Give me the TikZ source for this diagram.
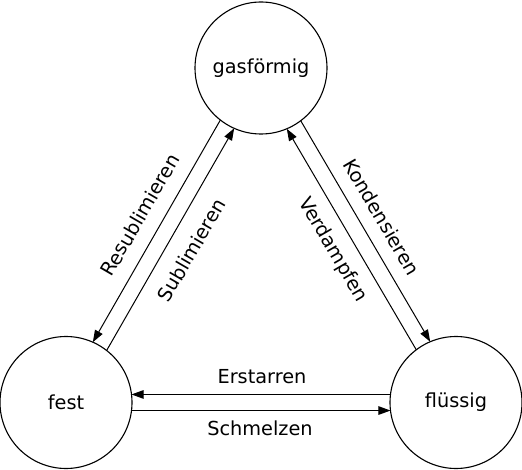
\documentclass[tikz,border=0pt]{standalone}
\usepackage{fontspec}
\setmainfont{DejaVu Sans}
\usetikzlibrary{arrows.meta}
\begin{document}
\begin{tikzpicture}[x=1pt,y=1pt,
  state/.style={circle,draw,line width=1.1pt,minimum size=132pt,inner sep=0pt,outer sep=0pt,font=\fontsize{19.3}{23}\selectfont},
  arr/.style={line width=1pt,-{Triangle[length=12pt,width=8.5pt]}},
  lab/.style={font=\fontsize{19.3}{23}\selectfont,inner sep=0pt}]
\useasboundingbox (0,0) rectangle (522,469);
\node[state] (gas) at (261,401) {gasförmig};
\node[state] (fest) at (66,66.5) {fest};
\node[state] (fl) at (456,66.5) {flüssig};
% left pair
\draw[arr] (gas.232.8) -- (fest.66.8);
\draw[arr] (fest.52.8) -- (gas.246.8);
% right pair
\draw[arr] (gas.307.2) -- (fl.113.2);
\draw[arr] (fl.127.2) -- (gas.293.2);
% horizontal pair
\draw[arr] (fl.173) -- (fest.7);
\draw[arr] (fest.-7) -- (fl.187);
% labels
\node[lab,rotate=59.8] (lres) at (140,254) {Resublimieren};
\node[lab,rotate=59.8] (lsub) at (191.5,219) {Sublimieren};
\node[lab,rotate=-59.8] (lkon) at (382,252) {Kondensieren};
\node[lab,rotate=-59.8] (lver) at (333,219) {Verdampfen};
\node[lab] (lers) at (262,92) {Erstarren};
\node[lab] (lsch) at (260,41) {Schmelzen};
\end{tikzpicture}
\end{document}
